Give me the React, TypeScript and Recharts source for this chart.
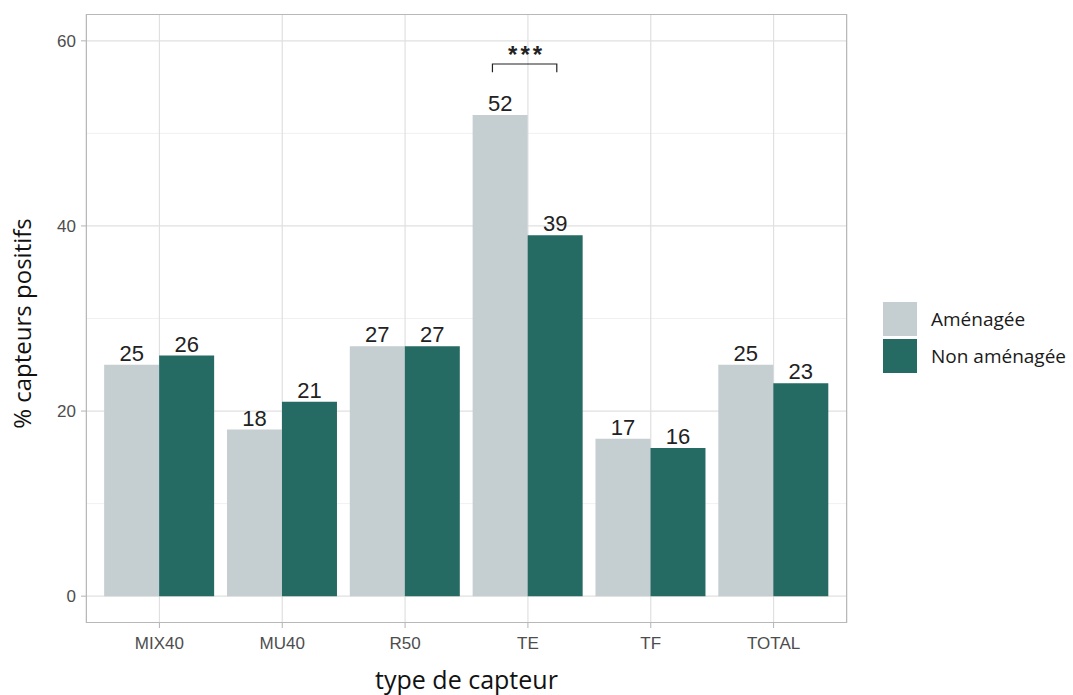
import { BarChart, Bar, XAxis, YAxis, CartesianGrid, Legend, LabelList } from 'recharts';

const categories = ['MIX40', 'MU40', 'R50', 'TE', 'TF', 'TOTAL'];
const amenagee = [25, 18, 27, 52, 17, 25];
const nonAmenagee = [26, 21, 27, 39, 16, 23];
const yTicks = [0, 20, 40, 60];
const minorTicks = [10, 30, 50];
const signifCategory = 'TE';
const signifLabel = '***';
const bracketY = 57.5;
const bracketTickY = 56.6;
const starsY = 58.6;

const LIGHT = '#c5ced0';
const DARK = '#256a63';

const data = categories.map((c, i) => ({ cat: c, a: amenagee[i], n: nonAmenagee[i] }));

const ValueLabel = (props: any) => {
  const { x, y, width, value } = props;
  return (
    <text x={x + width / 2} y={y - 4} textAnchor="middle" fontSize={22} fill="#222" fontFamily="Liberation Sans, Arial, sans-serif">
      {value}
    </text>
  );
};

// bracket drawn from the TE bar geometry (pixel per unit taken from the bar itself)
const Bracket = (props: any) => {
  const { x, y, width, height, value, index } = props;
  if (categories[index] !== signifCategory || !height) return null;
  const base = y + height;
  const k = height / value;
  const yy = (v: number) => base - v * k;
  const x1 = x + width * 0.36;
  const x2 = x + width * 1.53;
  return (
    <g>
      <path
        d={`M${x1},${yy(bracketTickY)} L${x1},${yy(bracketY)} L${x2},${yy(bracketY)} L${x2},${yy(bracketTickY)}`}
        stroke="#222"
        strokeWidth={1.2}
        fill="none"
      />
      <text x={(x1 + x2) / 2 + 2} y={yy(starsY) + 9} textAnchor="middle" fontSize={24} fontWeight="bold" letterSpacing={3} fill="#222" fontFamily="Liberation Sans, Arial, sans-serif">
        {signifLabel}
      </text>
    </g>
  );
};

const LegendBox = () => (
  <div style={{ fontFamily: 'Open Sans, sans-serif', fontSize: 19, color: '#1a1a1a' }}>
    {[
      { label: 'Aménagée', color: LIGHT },
      { label: 'Non aménagée', color: DARK },
    ].map((it) => (
      <div key={it.label} style={{ display: 'flex', alignItems: 'center', height: 37 }}>
        <div style={{ width: 34, height: 34, background: it.color, marginRight: 14 }} />
        <span>{it.label}</span>
      </div>
    ))}
  </div>
);

export default function App() {
  return (
    <div style={{ position: 'absolute', left: 0, top: 0, width: 1073, height: 695, background: '#fff' }}>
      <BarChart
        width={1073}
        height={695}
        data={data}
        margin={{ top: 14, right: 40, left: 0, bottom: 0 }}
        barCategoryGap="5%"
        barGap={0}
      >
        <CartesianGrid stroke="#ececec" strokeWidth={0.8} horizontalValues={minorTicks} vertical={false} />
        <CartesianGrid stroke="#e0e0e0" strokeWidth={1.2} horizontalValues={yTicks} />
        <XAxis
          dataKey="cat"
          height={72}
          padding={{ left: 12, right: 12 }}
          tickLine={{ stroke: '#b3b3b3' }}
          tickSize={5}
          tickMargin={9}
          axisLine={false}
          tick={{ fontSize: 17, fill: '#4d4d4d', fontFamily: 'Liberation Sans, Arial, sans-serif' }}
          label={{ value: 'type de capteur', position: 'insideBottom', offset: 6, fontSize: 25, fill: '#111', fontFamily: 'Open Sans, sans-serif' }}
        />
        <YAxis
          width={86}
          domain={[-2.9, 62.9]}
          ticks={yTicks}
          allowDataOverflow
          tickLine={{ stroke: '#b3b3b3' }}
          tickSize={5}
          tickMargin={5}
          axisLine={false}
          tick={{ fontSize: 17, fill: '#4d4d4d', fontFamily: 'Liberation Sans, Arial, sans-serif' }}
          label={{ value: '% capteurs positifs', angle: -90, position: 'insideLeft', offset: 22, dy: 5, fontSize: 24, fill: '#111', fontFamily: 'Open Sans, sans-serif', style: { textAnchor: 'middle' } }}
        />
        <Legend
          layout="vertical"
          align="right"
          verticalAlign="top"
          content={<LegendBox />}
          wrapperStyle={{ left: 883, top: 300, width: 186 }}
        />
        <Bar dataKey="a" name="Aménagée" fill={LIGHT} isAnimationActive={false}>
          <LabelList dataKey="a" content={ValueLabel} />
          <LabelList dataKey="a" content={Bracket} />
        </Bar>
        <Bar dataKey="n" name="Non aménagée" fill={DARK} isAnimationActive={false}>
          <LabelList dataKey="n" content={ValueLabel} />
        </Bar>
      </BarChart>
      {/* panel border */}
      <div style={{ position: 'absolute', left: 86, top: 14, width: 761, height: 609, border: '1px solid #b8b8b8', boxSizing: 'border-box', pointerEvents: 'none' }} />
    </div>
  );
}
